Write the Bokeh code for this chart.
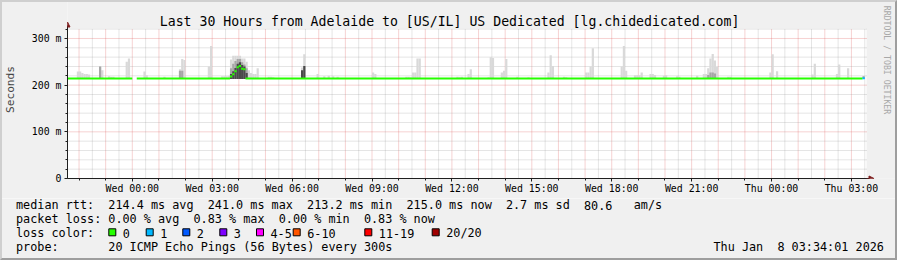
import math
import pandas as pd
from bokeh.plotting import figure
from bokeh.layouts import column
from bokeh.models import (Range1d, FixedTicker, CustomJSTickFormatter,
                          DatetimeTickFormatter, Arrow, NormalHead, InlineStyleSheet)
from bokeh.core.properties import value
from bokeh.embed import file_html
from bokeh.resources import INLINE

FONT = "DejaVu Sans Mono"

# ---------------------------------------------------------------- data
title_text = "Last 30 Hours from Adelaide to [US/IL] US Dedicated [lg.chidedicated.com]"
end_time = "2026-01-08 03:34:01"
span_hours = 30
y_label = "Seconds"
y_major_ticks = [0.0, 0.1, 0.2, 0.3]
y_minor_step = 0.02
y_canvas_top = 0.3214
x_label_first = "2026-01-07 00:00"
x_label_last = "2026-01-08 03:00"
watermark = "RRDTOOL / TOBI OETIKER"

# smoke: highest ping per 5-minute sample (ms), light shade
light_time = ["06 21:55", "06 22:00", "06 22:05", "06 22:10", "06 22:15", "06 22:20",
              "06 22:45", "06 22:50", "06 23:05", "06 23:10", "06 23:15", "06 23:45", "06 23:50",
              "07 00:25", "07 00:30", "07 01:10", "07 01:45", "07 01:50", "07 01:55", "07 02:50", "07 02:55",
              "07 03:20", "07 03:25", "07 03:30", "07 03:35",
              "07 03:40", "07 03:45", "07 03:50", "07 03:55", "07 04:00", "07 04:05", "07 04:10", "07 04:15",
              "07 04:20", "07 04:25", "07 04:30", "07 04:35", "07 04:40",
              "07 05:05", "07 05:10", "07 05:15", "07 06:20", "07 06:25", "07 06:55",
              "07 07:10", "07 07:20", "07 07:30", "07 07:40", "07 09:00", "07 09:05",
              "07 10:15", "07 10:20", "07 10:25", "07 10:30", "07 10:35", "07 10:40", "07 10:45",
              "07 12:10", "07 12:15", "07 12:20", "07 12:35", "07 12:40",
              "07 13:20", "07 13:25", "07 13:30", "07 13:50", "07 13:55", "07 14:00", "07 14:25", "07 14:50",
              "07 15:35", "07 15:40", "07 15:45", "07 16:10", "07 16:15",
              "07 17:00", "07 17:05", "07 17:10", "07 17:15", "07 18:20", "07 18:25", "07 18:30",
              "07 18:50", "07 18:55", "07 19:00", "07 19:05", "07 19:25", "07 19:30", "07 19:35",
              "07 19:55", "07 20:00", "07 20:25", "07 20:30", "07 21:10",
              "07 21:25", "07 21:30", "07 21:35", "07 21:40", "07 21:45", "07 21:50", "07 21:55",
              "07 22:20", "07 22:25", "07 23:55", "08 00:00", "08 00:10",
              "08 01:30", "08 01:35", "08 02:25", "08 02:30", "08 02:50", "08 03:25"]
light_ms = [229, 229, 226, 224, 224, 223,
            240, 232, 219, 218, 218, 250, 257,
            229, 221, 218, 234, 256, 254, 240, 284,
            219, 219, 219, 220,
            255, 263, 263, 263, 263, 257, 257, 250,
            232, 226, 224, 224, 236,
            218, 218, 217, 238, 266, 224,
            219, 220, 219, 218, 227, 224,
            218, 218, 217, 227, 227, 257, 257,
            218, 217, 218, 224, 234,
            217, 260, 258, 227, 231, 256, 218, 217,
            227, 264, 241, 218, 217,
            227, 227, 240, 279, 240, 284, 231,
            221, 221, 221, 227, 224, 224, 222,
            220, 221, 219, 218, 220,
            224, 224, 236, 257, 267, 253, 239,
            218, 218, 227, 266, 230,
            223, 246, 224, 244, 236, 219]

# smoke: denser part of the ping spread (ms), medium shade
mid_time = ["06 22:45", "07 01:45", "07 01:50",
            "07 03:40", "07 03:45", "07 03:50", "07 03:55", "07 04:00", "07 04:05", "07 04:10", "07 04:15",
            "07 21:35", "07 21:40", "07 21:45", "07 21:50", "08 03:25"]
mid_ms = [240, 231, 231,
          236, 246, 252, 256, 256, 249, 244, 236,
          222, 227, 227, 225, 219]

# smoke: core of the ping spread (ms), dark shade
dark_time = ["07 03:40", "07 03:45", "07 03:50", "07 03:55", "07 04:00", "07 04:05", "07 04:10", "07 04:15",
             "07 06:20", "07 06:25"]
dark_ms = [224, 230, 237, 246, 249, 243, 240, 226,
           232, 241]
smoke_floor_ms = 213.2

# median rtt, per run of samples
median_from = ["06 21:30", "07 00:10", "07 03:40", "07 03:45", "07 03:50", "07 03:55",
               "07 04:00", "07 04:05", "07 04:10", "07 04:15", "08 03:25"]
median_to = ["07 00:00", "07 03:40", "07 03:45", "07 03:50", "07 03:55", "07 04:00",
             "07 04:05", "07 04:10", "07 04:15", "08 03:25", "08 03:30"]
median_ms = [214.0, 214.0, 218.6, 223.5, 229.9, 238.5, 241.0, 235.0, 234.2, 214.0, 215.0]
median_loss = [0, 0, 0, 0, 0, 0, 0, 0, 0, 0, 1]

loss_labels = ["0", "1", "2", "3", "4-5", "6-10", "11-19", "20/20"]
loss_colors = ["#26ff00", "#00b8ff", "#0059ff", "#7e00ff", "#ff00ff", "#ff5500", "#ff0000", "#a00000"]

median_label = "median rtt:"
median_stats = ["214.4 ms avg", "241.0 ms max", "213.2 ms min", "215.0 ms now", "2.7 ms sd", "80.6", "am/s"]
loss_label = "packet loss:"
loss_stats = ["0.00 % avg", "0.83 % max", "0.00 % min", "0.83 % now"]
color_label = "loss color:"
probe_label = "probe:"
probe_text = "20 ICMP Echo Pings (56 Bytes) every 300s"

assert len(light_time) == len(light_ms)
assert len(mid_time) == len(mid_ms)
assert len(dark_time) == len(dark_ms)

# ---------------------------------------------------------------- style / layout
BACK = "#f0f0f0"
CANVAS = "#ffffff"
ARROW_C = "#7f1f1f"
AXIS_C = "#1f1f1f"
W, H_CHART, H_LEG = 897, 198, 62
LEFT, BOTTOM = 66, 178          # frame left / bottom in pixels
CANVAS_W, CANVAS_H = 800, 150   # data canvas in pixels

end_ts = pd.Timestamp(end_time)
start_ts = end_ts - pd.Timedelta(hours=span_hours)
to_ms = lambda t: pd.Timestamp(t).value / 1e6
x0_ms = to_ms(start_ts)
MS_PER_PX = span_hours * 3600 * 1000 / CANVAS_W
PX_PER_S = CANVAS_H / y_canvas_top


def x_at(px):
    return x0_ms + (px - LEFT) * MS_PER_PX


def y_at(px):
    return (BOTTOM - px) / PX_PER_S


def ts(lst):
    return pd.to_datetime(["2026-01-" + s for s in lst])


step = pd.Timedelta(minutes=5)

p = figure(width=W, height=H_CHART, x_axis_type="datetime",
           x_range=Range1d(x0_ms, x_at(W)), y_range=Range1d(0, y_at(0)),
           output_backend="svg", toolbar_location=None, tools="",
           min_border_left=LEFT, min_border_right=0, min_border_top=0,
           min_border_bottom=H_CHART - BOTTOM, frame_align=False,
           background_fill_color=BACK, border_fill_color=BACK, outline_line_color=None)
p.xgrid.visible = False
p.ygrid.visible = False

# white canvas
canvas_end = start_ts + pd.Timedelta(hours=span_hours)
p.quad(left=[start_ts], right=[canvas_end], bottom=[0], top=[y_canvas_top],
       fill_color=CANVAS, line_color=None)

# grid lines
half_hours = pd.date_range(start_ts.ceil("30min"), canvas_end, freq="30min")
grey_v = [t for t in half_hours if t.minute == 30]
red_v = [t for t in half_hours if t.minute == 0]
n_minor = int(round(y_canvas_top / y_minor_step))
y_levels = [round(k * y_minor_step, 4) for k in range(1, n_minor + 1)]
red_h = [v for v in y_levels if abs(v * 10 - round(v * 10)) < 1e-6]
grey_h = [v for v in y_levels if v not in red_h]
for xs, col, alpha in ((grey_v, "#8f8f8f", 0.46), (red_v, "#de5050", 0.5)):
    p.segment(x0=xs, y0=[0] * len(xs), x1=xs, y1=[y_canvas_top] * len(xs),
              line_color=col, line_alpha=alpha, line_width=1, line_dash="1 1")
for ys, col, alpha in ((grey_h, "#8f8f8f", 0.46), (red_h, "#de5050", 0.5)):
    p.segment(x0=[start_ts] * len(ys), y0=ys, x1=[canvas_end] * len(ys), y1=ys,
              line_color=col, line_alpha=alpha, line_width=1, line_dash="1 1")

# smoke
for tl, vl, col in ((light_time, light_ms, "#d9d9d9"),
                    (mid_time, mid_ms, "#a6a6a6"),
                    (dark_time, dark_ms, "#4a4a4a")):
    left = ts(tl)
    p.quad(left=left, right=left + step, bottom=[smoke_floor_ms / 1000] * len(vl),
           top=[v / 1000 for v in vl], fill_color=col, line_color=None)

# median
p.segment(x0=ts(median_from), y0=[v / 1000 for v in median_ms],
          x1=ts(median_to), y1=[v / 1000 for v in median_ms],
          line_color=[loss_colors[i] for i in median_loss], line_width=2, line_cap="butt")

# axes
xa = p.xaxis[0]
xa.ticker = FixedTicker(
    ticks=[to_ms(t) for t in pd.date_range(x_label_first, x_label_last, freq="3h")],
    minor_ticks=[to_ms(t) for t in red_v])
fmt = "%a %H:%M"
xa.formatter = DatetimeTickFormatter(hours=fmt, hourmin=fmt, days=fmt, minutes=fmt, minsec=fmt)
xa.bounds = (x0_ms, x_at(869))
ya = p.yaxis[0]
ya.ticker = FixedTicker(ticks=y_major_ticks, minor_ticks=[0.0] + y_levels)
ya.formatter = CustomJSTickFormatter(code="return tick == 0 ? '0' : Math.round(tick * 1000) + ' m';")
ya.bounds = (0, y_at(25))
ya.axis_label = y_label
ya.axis_label_text_font = FONT
ya.axis_label_text_font_size = "11.2px"
ya.axis_label_text_font_style = "normal"
ya.axis_label_standoff = 12
for ax in (xa, ya):
    ax.axis_line_color = AXIS_C
    ax.major_tick_line_color = AXIS_C
    ax.minor_tick_line_color = AXIS_C
    ax.major_tick_in = 0
    ax.minor_tick_in = 0
    ax.major_tick_out = 3
    ax.minor_tick_out = 2
    ax.major_label_text_font = FONT
    ax.major_label_text_font_size = "9.9px"
    ax.major_label_text_color = "#000000"
xa.major_label_standoff = 1
ya.major_label_standoff = 3

# axis arrows
p.add_layout(Arrow(end=NormalHead(size=5, fill_color=ARROW_C, line_color=ARROW_C, line_width=1),
                   x_start=x0_ms, y_start=y_at(27), x_end=x0_ms, y_end=y_at(21.5),
                   line_color=ARROW_C, line_width=1))
p.add_layout(Arrow(end=NormalHead(size=5, fill_color=ARROW_C, line_color=ARROW_C, line_width=1),
                   x_start=x_at(866), y_start=0, x_end=x_at(873.5), y_end=0,
                   line_color=ARROW_C, line_width=1))

# title and watermark
p.text(x=[x_at(448.5)], y=[y_at(20.8)], text=[title_text], text_align="center",
       text_baseline="alphabetic", text_font=value(FONT), text_font_size="13.2px",
       text_color="#000000")
p.text(x=[x_at(886.5)], y=[y_at(59.5)], text=[watermark], angle=-math.pi / 2,
       text_align="center", text_baseline="middle", text_font=value(FONT),
       text_font_size="8.2px", text_color="#a8a8a8")

# ---------------------------------------------------------------- legend area
q = figure(width=W, height=H_LEG, x_range=Range1d(0, W), y_range=Range1d(260, 260 - H_LEG),
           output_backend="svg", toolbar_location=None, tools="", min_border=0,
           x_axis_location=None, y_axis_location=None, frame_align=False,
           background_fill_color=BACK, border_fill_color=BACK, outline_line_color=None)
q.xgrid.visible = False
q.ygrid.visible = False

CH = 7.1
X0 = 15.5
rows_y = [204.7, 218.7, 232.7, 246.7]


def put(col, row, txt, x=None):
    q.text(x=[X0 + col * CH if x is None else x], y=[rows_y[row]], text=[txt],
           text_align="left", text_baseline="alphabetic", text_font=value(FONT),
           text_font_size="11.8px", text_color="#000000")


put(0, 0, median_label)
for c, s in zip([13, 27, 41, 55, 69, 80, 87], median_stats):
    put(c, 0, s)
put(0, 1, loss_label)
for c, s in zip([13, 25, 37, 49], loss_stats):
    put(c, 1, s)
put(0, 2, color_label)
sq_left = [108.3, 145.7, 182.3, 219.3, 256.0, 292.7, 364.3, 431.7]
q.rect(x=[v + 3.5 for v in sq_left], y=[231.8] * len(sq_left), width=7, height=7,
       fill_color=loss_colors, line_color="#000000", line_width=1)
for xl, lab in zip(sq_left, loss_labels):
    put(0, 2, lab, x=xl + 14)
put(0, 3, probe_label)
put(13, 3, probe_text)
stamp_a = end_ts.strftime("%a %b")
stamp_b = f"{end_ts.day} " + end_ts.strftime("%H:%M:%S %Y")
put(0, 3, stamp_a, x=713.0)
put(0, 3, stamp_b, x=713.0 + 9 * CH)

border_css = InlineStyleSheet(css="""
:host { position: relative; }
:host::after { content: ''; position: absolute; left: 0; top: 0; right: 0; bottom: 0;
  pointer-events: none; box-sizing: border-box; border-style: solid; border-width: 2px;
  border-color: #cfcfcf #9e9e9e #9e9e9e #cfcfcf; }
""")
layout = column(p, q, spacing=0, stylesheets=[border_css])

open("out.html", "w").write(file_html(layout, INLINE))
